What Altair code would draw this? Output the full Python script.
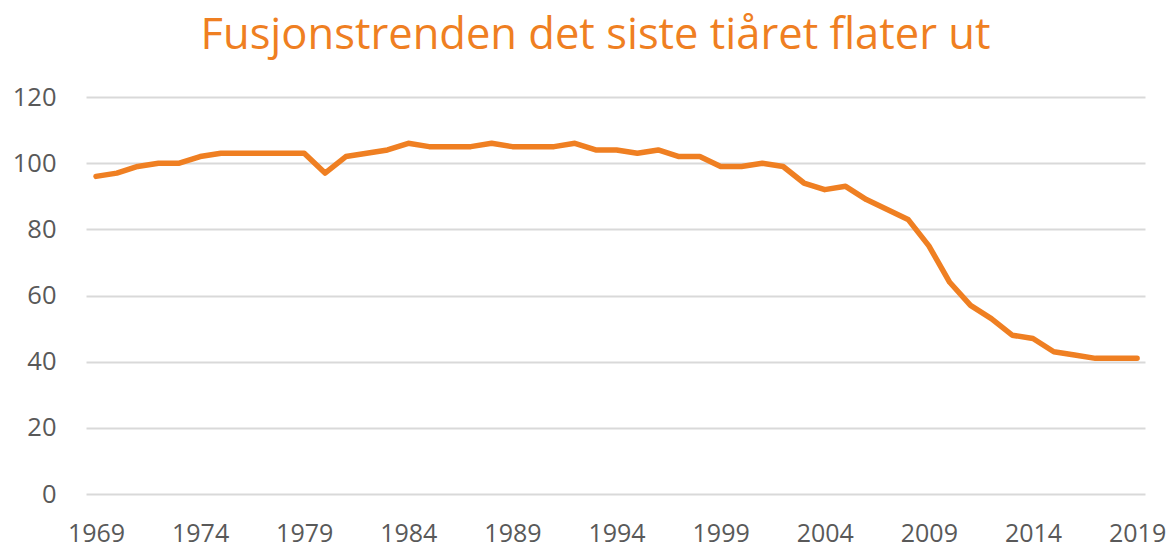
import altair as alt
import pandas as pd

years = list(range(1969, 2020))
values = [96, 97, 99, 100, 100, 102, 103, 103, 103, 103, 103,
          97, 102, 103, 104, 106, 105, 105, 105, 106, 105,
          105, 105, 106, 104, 104, 103, 104, 102, 102, 99,
          99, 100, 99, 94, 92, 93, 89, 86, 83, 75,
          64, 57, 53, 48, 47, 43, 42, 41, 41, 41]
x_ticks = [1969, 1974, 1979, 1984, 1989, 1994, 1999, 2004, 2009, 2014, 2019]
y_ticks = [0, 20, 40, 60, 80, 100, 120]

df = pd.DataFrame({"year": years, "value": values})

ORANGE = "#EF7F22"
GRAY = "#595959"

chart = alt.Chart(df).mark_line(
    color=ORANGE, strokeWidth=5.5, strokeCap="round", strokeJoin="round"
).encode(
    x=alt.X("year:Q",
            scale=alt.Scale(domain=[1968.52, 2019.38], nice=False, zero=False),
            axis=alt.Axis(values=x_ticks, format="d", title=None, grid=False,
                          domain=False, ticks=False, labelPadding=27,
                          labelFontSize=25, labelColor=GRAY, labelFont="Open Sans",
                          labelFlush=False)),
    y=alt.Y("value:Q",
            scale=alt.Scale(domain=[0, 120], nice=False),
            axis=alt.Axis(values=y_ticks, title=None, grid=True, gridColor="#D9D9D9",
                          gridWidth=1.8, domain=False, ticks=False, labelPadding=30,
                          labelFontSize=25.5, labelColor=GRAY, labelFont="Open Sans")),
).properties(
    width=1059,
    height=397,
    title=alt.TitleParams(
        "Fusjonstrenden det siste tiåret flater ut",
        color=ORANGE, fontSize=43.5, font="Open Sans", fontWeight="normal",
        anchor="middle", dx=-20, offset=27,
    ),
    autosize=alt.AutoSizeParams(type="none"),
    padding={"left": 78, "top": 89, "right": 21, "bottom": 55},
).configure_view(stroke=None)

chart.save("out.html", embed_options={"renderer": "svg", "actions": False})
